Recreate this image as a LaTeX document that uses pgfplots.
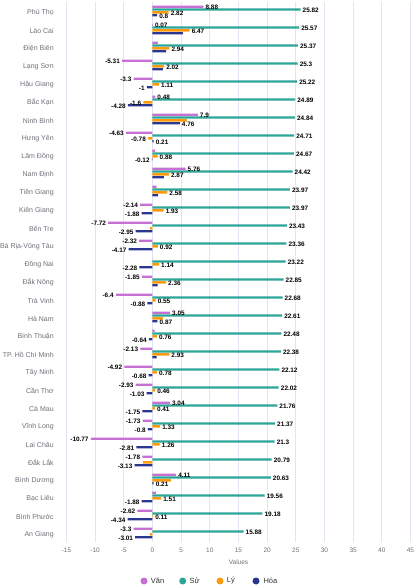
\documentclass[border=0pt]{standalone}
\usepackage{fontspec}
\setmainfont{Liberation Sans}
\usepackage{pgfplots}
\pgfplotsset{compat=1.18}
\definecolor{vancol}{HTML}{C770D3}
\definecolor{sucol}{HTML}{2CA597}
\definecolor{lycol}{HTML}{FD9A0B}
\definecolor{hoacol}{HTML}{2B3691}
\definecolor{gridcol}{HTML}{E0E6F1}
\definecolor{labcol}{HTML}{6E7079}
\definecolor{legcol}{HTML}{333333}
\pgfplotsset{
  posl/.style={draw=none, fill=none, forget plot, point meta=explicit symbolic, nodes near coords, every node near coord/.append style={anchor=west}},
  negl/.style={draw=none, fill=none, forget plot, point meta=explicit symbolic, nodes near coords, every node near coord/.append style={anchor=east}},
}
\begin{document}
\begin{tikzpicture}
\useasboundingbox (-66.5pt,-46pt) rectangle (352.5pt,542pt);
\begin{axis}[
  at={(0,0)}, anchor=south west,
  scale only axis, width=344pt, height=540pt,
  xbar, bar width=2.3pt,
  xmin=-15, xmax=45, ymin=-0.5, ymax=29.5,
  xtick={-15,-10,...,45}, ytick={0,1,...,29},
  yticklabels={An Giang, Bình Phước, Bạc Liêu, Bình Dương, Đắk Lắk, Lai Châu, Vĩnh Long, Cà Mau, Cần Thơ, Tây Ninh, TP. Hồ Chí Minh, Bình Thuận, Hà Nam, Trà Vinh, Đắk Nông, Đồng Nai, Bà Rịa-Vũng Tàu, Bến Tre, Kiên Giang, Tiền Giang, Nam Định, Lâm Đồng, Hưng Yên, Ninh Bình, Bắc Kạn, Hậu Giang, Lạng Sơn, Điện Biên, Lào Cai, Phú Thọ},
  axis line style={draw=none}, tick style={draw=none},
  xmajorgrids, grid style={gridcol, line width=0.8pt},
  ticklabel style={font=\fontsize{6.5}{7}\selectfont, text=labcol},
  yticklabel style={font=\fontsize{7}{8}\selectfont, xshift=-5pt, yshift=-1.5pt},
  xticklabel style={yshift=-2pt},
  /pgf/number format/assume math mode=true,
  clip=false,
  every node near coord/.append style={font=\bfseries\fontsize{6.4}{7}\selectfont, text=black, inner xsep=2pt, inner ysep=0.5pt, yshift=-0.8pt},
]
% bars
\addplot[draw=none, fill=vancol, bar shift=4.2pt, forget plot] coordinates {
(8.88,29) (0.07,28) (0.95,27) (-5.31,26) (-3.3,25) (0.48,24) (7.9,23) (-4.63,22) (0.4,21) (5.76,20)
(0.7,19) (-2.14,18) (-7.72,17) (-2.32,16) (0,15) (-1.85,14) (-6.4,13) (3.05,12) (0.35,11) (-2.13,10)
(-4.92,9) (-2.93,8) (3.04,7) (-1.73,6) (-10.77,5) (-1.78,4) (4.11,3) (0.6,2) (-2.62,1) (-3.3,0)};
\addplot[draw=none, fill=sucol, bar shift=1.4pt, forget plot] coordinates {
(25.82,29) (25.57,28) (25.37,27) (25.3,26) (25.22,25) (24.89,24) (24.84,23) (24.71,22) (24.67,21) (24.42,20)
(23.97,19) (23.97,18) (23.43,17) (23.36,16) (23.22,15) (22.85,14) (22.68,13) (22.61,12) (22.48,11) (22.38,10)
(22.12,9) (22.02,8) (21.76,7) (21.37,6) (21.3,5) (20.79,4) (20.63,3) (19.56,2) (19.18,1) (15.88,0)};
\addplot[draw=none, fill=lycol, bar shift=-1.4pt, forget plot] coordinates {
(2.82,29) (6.47,28) (2.94,27) (2.02,26) (1.11,25) (-1.6,24) (6.0,23) (-0.78,22) (0.88,21) (2.87,20)
(2.58,19) (1.93,18) (-0.4,17) (0.92,16) (1.14,15) (2.36,14) (0.55,13) (1.8,12) (0.76,11) (2.93,10)
(0.78,9) (0.46,8) (0.41,7) (1.33,6) (1.26,5) (-1.7,4) (3.2,3) (1.51,2) (0.11,1) (-0.4,0)};
\addplot[draw=none, fill=hoacol, bar shift=-4.2pt, forget plot] coordinates {
(0.8,29) (5.3,28) (2.36,27) (1.8,26) (-1,25) (-4.28,24) (4.76,23) (0.21,22) (-0.12,21) (2.0,20)
(1.0,19) (-1.88,18) (-2.95,17) (-4.17,16) (-2.28,15) (0.9,14) (-0.88,13) (0.87,12) (-0.64,11) (0.7,10)
(-0.68,9) (-1.03,8) (-1.75,7) (-0.8,6) (-2.81,5) (-3.13,4) (0.21,3) (-1.88,2) (-4.34,1) (-3.01,0)};
% labels: Van
\addplot[posl, bar shift=4.2pt] coordinates {
(8.88,29) [8.88] (0.07,28) [0.07] (0.48,24) [0.48] (7.9,23) [7.9] (5.76,20) [5.76] (3.05,12) [3.05] (3.04,7) [3.04] (4.11,3) [4.11]};
\addplot[negl, bar shift=4.2pt] coordinates {
(-5.31,26) [-5.31] (-3.3,25) [-3.3] (-4.63,22) [-4.63] (-2.14,18) [-2.14] (-7.72,17) [-7.72] (-2.32,16) [-2.32] (-1.85,14) [-1.85] (-6.4,13) [-6.4] (-2.13,10) [-2.13] (-4.92,9) [-4.92] (-2.93,8) [-2.93] (-1.73,6) [-1.73] (-10.77,5) [-10.77] (-1.78,4) [-1.78] (-2.62,1) [-2.62] (-3.3,0) [-3.3]};
% labels: Su
\addplot[posl, bar shift=1.4pt] coordinates {
(25.82,29) [25.82] (25.57,28) [25.57] (25.37,27) [25.37] (25.3,26) [25.3] (25.22,25) [25.22] (24.89,24) [24.89] (24.84,23) [24.84] (24.71,22) [24.71] (24.67,21) [24.67] (24.42,20) [24.42]
(23.97,19) [23.97] (23.97,18) [23.97] (23.43,17) [23.43] (23.36,16) [23.36] (23.22,15) [23.22] (22.85,14) [22.85] (22.68,13) [22.68] (22.61,12) [22.61] (22.48,11) [22.48] (22.38,10) [22.38]
(22.12,9) [22.12] (22.02,8) [22.02] (21.76,7) [21.76] (21.37,6) [21.37] (21.3,5) [21.3] (20.79,4) [20.79] (20.63,3) [20.63] (19.56,2) [19.56] (19.18,1) [19.18] (15.88,0) [15.88]};
% labels: Ly
\addplot[posl, bar shift=-1.4pt] coordinates {
(2.82,29) [2.82] (6.47,28) [6.47] (2.94,27) [2.94] (2.02,26) [2.02] (1.11,25) [1.11] (0.88,21) [0.88] (2.87,20) [2.87] (2.58,19) [2.58] (1.93,18) [1.93] (0.92,16) [0.92] (1.14,15) [1.14] (2.36,14) [2.36] (0.55,13) [0.55] (0.76,11) [0.76] (2.93,10) [2.93] (0.78,9) [0.78] (0.46,8) [0.46] (0.41,7) [0.41] (1.33,6) [1.33] (1.26,5) [1.26] (1.51,2) [1.51] (0.11,1) [0.11]};
\addplot[negl, bar shift=-1.4pt] coordinates {
(-1.6,24) [-1.6] (-0.78,22) [-0.78]};
% labels: Hoa
\addplot[posl, bar shift=-4.2pt] coordinates {
(0.8,29) [0.8] (4.76,23) [4.76] (0.21,22) [0.21] (0.87,12) [0.87] (0.21,3) [0.21]};
\addplot[negl, bar shift=-4.2pt] coordinates {
(-1,25) [-1] (-4.28,24) [-4.28] (-0.12,21) [-0.12] (-1.88,18) [-1.88] (-2.95,17) [-2.95] (-4.17,16) [-4.17] (-2.28,15) [-2.28] (-0.88,13) [-0.88] (-0.64,11) [-0.64] (-0.68,9) [-0.68] (-1.03,8) [-1.03] (-1.75,7) [-1.75] (-0.8,6) [-0.8] (-2.81,5) [-2.81] (-3.13,4) [-3.13] (-1.88,2) [-1.88] (-4.34,1) [-4.34] (-3.01,0) [-3.01]};
\node[font=\fontsize{6.5}{7}\selectfont, text=labcol, yshift=-20pt] at (axis description cs:0.5,0) {Values};
\end{axis}
% legend
\fill[vancol] (77.5pt,-39pt) circle (3.5pt);
\node[anchor=west, inner sep=0pt, font=\fontsize{7.5}{8}\selectfont, text=legcol] at (84.2pt,-39pt) {Văn};
\fill[sucol] (116.2pt,-39pt) circle (3.5pt);
\node[anchor=west, inner sep=0pt, font=\fontsize{7.5}{8}\selectfont, text=legcol] at (122.8pt,-39pt) {Sử};
\fill[lycol] (153.5pt,-39pt) circle (3.5pt);
\node[anchor=west, inner sep=0pt, font=\fontsize{7.5}{8}\selectfont, text=legcol] at (160.2pt,-39pt) {Lý};
\fill[hoacol] (189.5pt,-39pt) circle (3.5pt);
\node[anchor=west, inner sep=0pt, font=\fontsize{7.5}{8}\selectfont, text=legcol] at (196.8pt,-39pt) {Hóa};
\end{tikzpicture}
\end{document}
